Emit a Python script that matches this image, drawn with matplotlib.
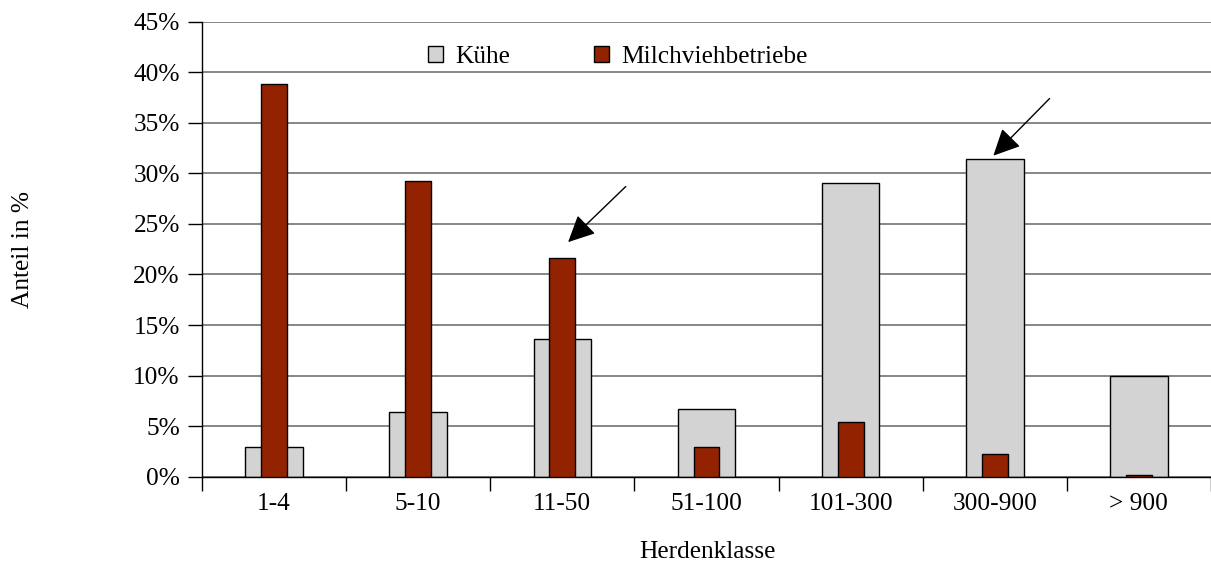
import numpy as np
import matplotlib
matplotlib.use("Agg")
import matplotlib.pyplot as plt
from matplotlib.patches import Patch

plt.rcParams['font.family'] = ['Liberation Serif', 'DejaVu Serif']

classes = ["1-4", "5-10", "11-50", "51-100", "101-300", "300-900", "> 900"]
kuehe = [2.9, 6.4, 13.6, 6.7, 29.0, 31.4, 10.0]
betriebe = [38.8, 29.2, 21.6, 2.9, 5.4, 2.2, 0.2]

grey = "#d3d3d3"
red = "#932300"
fs = 18.3

fig = plt.figure(figsize=(12.11, 5.67), dpi=100)
ax = fig.add_axes([0.1668, 0.1593, 0.8332, 0.8024])

x = np.arange(len(classes))
ax.bar(x, kuehe, width=0.40, color=grey, edgecolor="black", linewidth=1, zorder=2)
ax.bar(x, betriebe, width=0.18, color=red, edgecolor="black", linewidth=1, zorder=3)

ax.set_xlim(-0.5, len(classes) - 0.5)
ax.set_ylim(0, 45)

# horizontal grid lines
ax.set_yticks(np.arange(0, 46, 5))
ax.set_yticklabels([f"{v}%" for v in range(0, 46, 5)])
ax.yaxis.grid(True, color="#666666", linewidth=1.1, zorder=0)
ax.set_axisbelow(True)
ax.tick_params(axis="y", length=10, width=1, pad=6, labelsize=fs)

# category boundaries as ticks, labels in between
ax.set_xticks(np.arange(-0.5, len(classes), 1.0))
ax.set_xticklabels([])
ax.set_xticks(x, minor=True)
ax.set_xticklabels(classes, minor=True)
ax.tick_params(axis="x", which="major", length=10, width=1)
ax.tick_params(axis="x", which="minor", length=0, pad=12, labelsize=fs)

for s in ["top", "right"]:
    ax.spines[s].set_visible(False)
ax.spines["left"].set_linewidth(1)
ax.spines["bottom"].set_linewidth(1)

# arrows pointing at the two highlighted bars
arrow = dict(arrowstyle="-|>,head_length=1.65,head_width=0.8", color="black",
             lw=1, shrinkA=0, shrinkB=0)
ax.annotate("", xy=(2.04, 23.2), xytext=(2.44, 28.7), arrowprops=arrow, zorder=4)
ax.annotate("", xy=(4.99, 31.75), xytext=(5.38, 37.4), arrowprops=arrow, zorder=4)

handles = [Patch(facecolor=grey, edgecolor="black", label="Kühe"),
           Patch(facecolor=red, edgecolor="black", label="Milchviehbetriebe")]
ax.legend(handles=handles, loc="center left", bbox_to_anchor=(0.224, 0.922),
          ncol=2, frameon=False, fontsize=fs, borderpad=0, borderaxespad=0,
          handlelength=0.58, handleheight=0.58, handletextpad=0.5,
          columnspacing=3.3)

fig.text(707 / 1211, 1 - 552 / 567, "Herdenklasse", ha="center", va="center",
         fontsize=fs)
fig.text(23 / 1211, 1 - 250 / 567, "Anteil in %", ha="center", va="center",
         rotation=90, fontsize=fs)

fig.savefig("out.png", dpi=100)
